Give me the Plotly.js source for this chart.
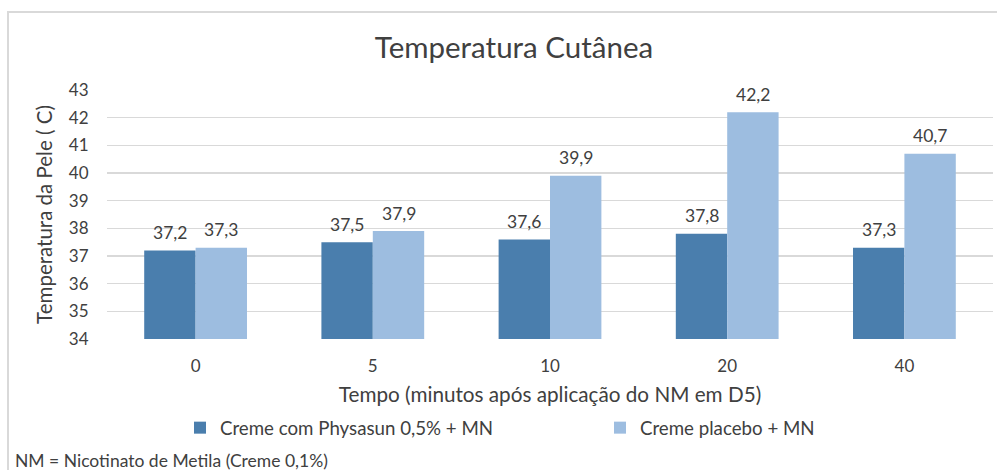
<!DOCTYPE html>
<html>
<head>
<meta charset="utf-8">
<script src="https://cdn.plot.ly/plotly-3.0.1.min.js"></script>
<style>html,body{margin:0;padding:0;background:#fff;}#chart{width:997px;height:470px;}</style>
</head>
<body>
<div id="chart"></div>
<script>
const categories = ['0', '5', '10', '20', '40'];
const seriesNames = ['Creme com Physasun 0,5% + MN', 'Creme placebo + MN'];
const physasun = [37.2, 37.5, 37.6, 37.8, 37.3];
const placebo = [37.3, 37.9, 39.9, 42.2, 40.7];
const yTicks = [34, 35, 36, 37, 38, 39, 40, 41, 42, 43];

const FONT = 'Lato, "Open Sans", sans-serif';
const TXT = '#404040';
const colors = ['#4a7ead', '#9dbde0'];

const fmt = v => v.toFixed(1).replace('.', ',');
const idx = categories.map((c, j) => j);

const traces = [physasun, placebo].map((vals, i) => ({
  type: 'bar',
  name: seriesNames[i],
  x: idx,
  y: vals,
  marker: {color: colors[i]},
  hoverinfo: 'none',
  legend: i === 0 ? 'legend' : 'legend2'
}));

const annotations = [];
[physasun, placebo].forEach((vals, i) => {
  vals.forEach((v, j) => {
    annotations.push({
      x: idx[j], y: v, xref: 'x', yref: 'y',
      text: fmt(v), showarrow: false,
      xshift: i === 0 ? -25.7 : 25.7, yshift: 18,
      font: {family: FONT, size: 17.5, color: TXT}
    });
  });
});
annotations.push({
  xref: 'paper', yref: 'paper', x: 13/997, y: (470-460)/470,
  xanchor: 'left', yanchor: 'middle', showarrow: false,
  text: 'NM = Nicotinato de Metila (Creme 0,1%)',
  font: {family: FONT, size: 17.5, color: TXT}
});

const legendBase = {orientation: 'h', xanchor: 'left', y: (470-428)/470, yanchor: 'middle',
  font: {family: FONT, size: 18.7, color: TXT}, bgcolor: 'rgba(0,0,0,0)'};

const layout = {
  width: 997, height: 470,
  margin: {l: 0, r: 0, t: 0, b: 0},
  paper_bgcolor: '#ffffff', plot_bgcolor: '#ffffff',
  font: {family: FONT, color: TXT},
  title: {text: 'Temperatura Cutânea', x: 514/997, xanchor: 'center',
          y: (470-48)/470, yanchor: 'middle', font: {family: FONT, size: 29.5, color: TXT}},
  barmode: 'group', bargap: 0.42, bargroupgap: 0,
  xaxis: {
    domain: [107/997, 993/997], range: [-0.5, 4.5],
    tickvals: idx, ticktext: categories,
    showgrid: false, zeroline: false, showline: false,
    ticks: 'outside', ticklen: 12, tickcolor: 'rgba(0,0,0,0)',
    tickfont: {family: FONT, size: 17, color: TXT},
    title: {text: 'Tempo (minutos após aplicação do NM em D5)', standoff: 12,
            font: {family: FONT, size: 20.7, color: TXT}}
  },
  yaxis: {
    domain: [(470-339)/470, (470-90)/470], range: [34, 43],
    tickvals: yTicks, ticktext: yTicks.map(String),
    showgrid: true, gridcolor: '#d9d9d9', gridwidth: 1.5,
    zeroline: false, showline: false,
    ticks: 'outside', ticklen: 14, tickcolor: 'rgba(0,0,0,0)',
    tickfont: {family: FONT, size: 17, color: TXT},
    title: {text: 'Temperatura da Pele ( C)', standoff: 10,
            font: {family: FONT, size: 20.5, color: TXT}}
  },
  showlegend: true,
  legend: Object.assign({}, legendBase, {x: 180/997}),
  legend2: Object.assign({}, legendBase, {x: 600/997}),
  shapes: [{type: 'rect', xref: 'paper', yref: 'paper', x0: 8/997, x1: 1.02, y0: -0.1, y1: (470-12)/470,
            line: {color: '#d9d9d9', width: 2}, fillcolor: 'rgba(0,0,0,0)', layer: 'below'}],
  annotations: annotations
};

Plotly.newPlot('chart', traces, layout, {displayModeBar: false, staticPlot: true});
</script>
</body>
</html>
